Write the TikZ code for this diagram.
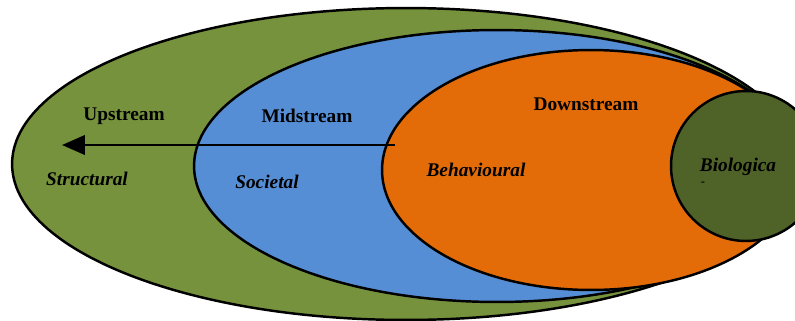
\documentclass[tikz,border=0pt]{standalone}
\usepackage{fontspec}
\setmainfont{Liberation Serif}
\usepackage{tikz}
\usetikzlibrary{arrows.meta,shapes.geometric}
\definecolor{outergreen}{HTML}{76923C}
\definecolor{midblue}{HTML}{558ED5}
\definecolor{downorange}{HTML}{E36C09}
\definecolor{biogreen}{HTML}{4F6228}
\tikzset{
  zone/.style={ellipse,draw=black,line width=1.4pt,inner sep=0pt},
  lbl/.style={font=\fontsize{11}{13}\selectfont\bfseries},
  ilbl/.style={font=\fontsize{11}{13}\selectfont\bfseries\itshape}
}

\begin{document}
\begin{tikzpicture}[x=0.02cm,y=-0.02cm]
		\useasboundingbox (0,0) rectangle (795,321);
		\clip (0,0) rectangle (795,321);
		%
		\node[zone,fill=outergreen,minimum width=15.76cm,minimum height=6.24cm] (upz) at (406,164) {};
		\node[zone,fill=midblue,minimum width=12.12cm,minimum height=5.44cm] (midz) at (497,166) {};
		\node[zone,fill=downorange,minimum width=8.36cm,minimum height=4.8cm] (downz) at (591,170) {};
		\node[circle,draw=black,line width=1.4pt,fill=biogreen,minimum size=3cm,inner sep=0pt] (bio) at (746,166) {};
		%
		\node[lbl] (up) at (124,116) {Upstream};
		\node[lbl] (mid) at (307,116) {Midstream};
		\node[lbl] (down) at (586,104) {Downstream};
		\node[ilbl] (struct) at (87,179) {Structural};
		\node[ilbl] (soc) at (267,182) {Societal};
		\node[ilbl] (beh) at (476,170) {Behavioural};
		\node[ilbl,inner sep=1pt] (biol) at (738,167) {Biologica};
		\node[font=\scriptsize\bfseries,inner sep=0pt] (dash) at (703,184) {-};
		%
		\coordinate (start) at (395,145);
		\coordinate (tip) at (62,145);
		\draw[line width=1.5pt,-{Triangle[length=13pt,width=11pt]}] (start) -- (tip);
		\end{tikzpicture}
\end{document}
